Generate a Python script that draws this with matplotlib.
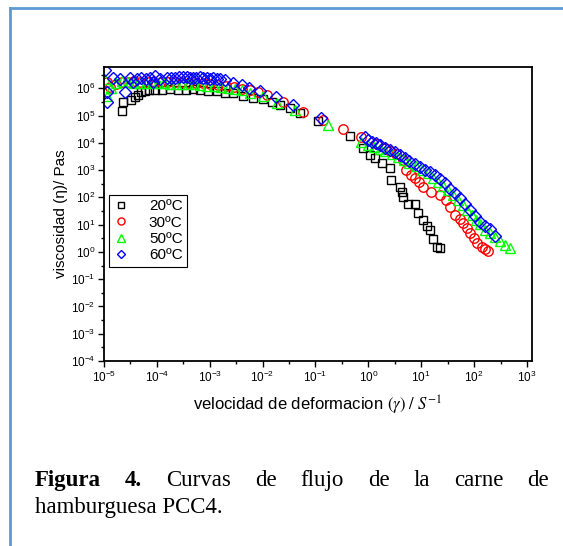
import matplotlib
matplotlib.use('Agg')
import matplotlib.pyplot as plt
from matplotlib.lines import Line2D
from matplotlib.ticker import LogLocator, NullFormatter, LogFormatterSciNotation

plt.rcParams['font.family'] = ['Liberation Sans', 'DejaVu Sans']
plt.rcParams['mathtext.fontset'] = 'custom'
plt.rcParams['mathtext.rm'] = 'Liberation Sans'
plt.rcParams['mathtext.it'] = 'Liberation Sans:italic'
plt.rcParams['mathtext.bf'] = 'Liberation Sans:bold'

# 20 ºC
x20 = [2.15e-5, 2.3e-5, 3.3e-5, 3.9e-5, 4.4e-5, 5.1e-5, 6.0e-5, 7.1e-5, 9.1e-5, 1.23e-4,
       1.78e-4, 2.5e-4, 3.6e-4, 4.8e-4, 6.5e-4, 9.3e-4, 1.35e-3, 1.95e-3, 2.75e-3, 4.3e-3,
       6.6e-3, 1.02e-2, 1.5e-2, 2.1e-2, 3.3e-2, 5.1e-2, 0.112, 0.45, 0.79, 1.07,
       1.32, 1.78, 2.6, 2.7, 3.95, 4.3, 4.5, 5.6, 7.6, 8.7,
       10.7, 12.6, 14.5, 16.6, 19.5, 22.4]
y20 = [1.48e5, 3.1e5, 3.7e5, 4.9e5, 5.6e5, 7.1e5, 8.1e5, 8.5e5, 8.5e5, 8.5e5,
       9.2e5, 8.9e5, 8.9e5, 9.2e5, 8.9e5, 7.9e5, 7.9e5, 6.9e5, 6.6e5, 5.4e5,
       4.5e5, 4.0e5, 3.2e5, 2.4e5, 1.95e5, 1.2e5, 6.3e4, 1.78e4, 6.5e3, 3.5e3,
       2.8e3, 1.75e3, 1.15e3, 450, 240, 158, 102, 59, 56, 27,
       14.5, 9.3, 6.2, 3.1, 1.5, 1.35]

# 30 ºC
x30 = [1.12e-5, 1.29e-5, 1.7e-5, 2.2e-5, 2.8e-5, 3.7e-5, 4.8e-5, 6.5e-5, 8.9e-5, 1.2e-4,
       1.62e-4, 2.2e-4, 2.95e-4, 4.0e-4, 5.5e-4, 7.4e-4, 1.0e-3, 1.42e-3, 2.0e-3, 2.9e-3,
       4.1e-3, 5.8e-3, 8.2e-3, 1.2e-2, 2.4e-2, 5.7e-2, 0.138, 0.33, 0.74, 1.44,
       2.05, 2.6, 3.4, 4.5, 5.2, 6.3, 7.6, 8.9, 10.7, 15.5,
       22.4, 30, 35, 43.6, 54, 62, 73, 83, 98, 112,
       141, 158, 182]
y30 = [1.74e6, 1.15e6, 1.44e6, 1.7e6, 1.7e6, 1.85e6, 1.7e6, 1.7e6, 1.7e6, 1.7e6,
       1.7e6, 1.7e6, 1.63e6, 1.56e6, 1.56e6, 1.5e6, 1.44e6, 1.32e6, 1.2e6, 1.12e6,
       9.8e5, 8.6e5, 7.3e5, 5.6e5, 3.1e5, 1.38e5, 6.8e4, 3.1e4, 1.66e4, 8.9e3,
       6.4e3, 4.9e3, 3.8e3, 2.3e3, 1.0e3, 650, 500, 360, 240, 158,
       120, 78, 44, 22, 15.5, 11.2, 7.4, 4.8, 3.2, 2.2,
       1.47, 1.26, 1.05]

# 50 ºC
x50 = [1.04e-5, 1.15e-5, 1.36e-5, 1.7e-5, 2.2e-5, 2.8e-5, 3.7e-5, 4.8e-5, 6.2e-5, 8.1e-5,
       1.05e-4, 1.36e-4, 1.78e-4, 2.3e-4, 2.95e-4, 3.9e-4, 5.0e-4, 6.5e-4, 8.9e-4, 1.2e-3,
       1.62e-3, 2.2e-3, 3.0e-3, 4.1e-3, 5.8e-3, 1.02e-2, 1.87e-2, 4.1e-2, 0.17, 0.74,
       0.98, 1.26, 1.66, 2.1, 2.8, 3.6, 4.7, 6.0, 7.9, 10.2,
       13.2, 16.6, 20.4, 25.7, 31.6, 40, 49, 62, 73, 91,
       107, 129, 158, 200, 245, 309, 380, 468]
y50 = [2.2e6, 5.2e5, 1.02e6, 1.56e6, 1.85e6, 1.7e6, 1.56e6, 1.56e6, 1.56e6, 1.56e6,
       1.56e6, 1.5e6, 1.44e6, 1.44e6, 1.44e6, 1.44e6, 1.38e6, 1.32e6, 1.26e6, 1.2e6,
       1.12e6, 1.02e6, 9.4e5, 8.3e5, 6.6e5, 5.0e5, 3.0e5, 1.59e5, 4.5e4, 1.1e4,
       8.3e3, 6.9e3, 5.9e3, 4.9e3, 3.8e3, 2.95e3, 2.3e3, 1.78e3, 1.38e3, 1.0e3,
       780, 500, 360, 260, 182, 120, 78, 51, 34, 22,
       14.5, 10.2, 6.6, 4.8, 3.4, 2.45, 1.74, 1.35]

# 60 ºC
x60 = [1.04e-5, 1.12e-5, 1.15e-5, 1.48e-5, 2.0e-5, 2.5e-5, 3.1e-5, 3.55e-5, 4.2e-5, 5.1e-5,
       6.2e-5, 7.4e-5, 8.5e-5, 9.1e-5, 1.15e-4, 1.55e-4, 1.86e-4, 2.2e-4, 2.6e-4, 3.1e-4,
       3.7e-4, 4.3e-4, 4.8e-4, 5.6e-4, 6.5e-4, 7.4e-4, 8.7e-4, 1.0e-3, 1.15e-3, 1.35e-3,
       1.55e-3, 1.95e-3, 2.75e-3, 4.0e-3, 5.5e-3, 8.9e-3, 1.82e-2, 3.7e-2, 0.13, 0.85,
       0.98, 1.15, 1.38, 1.66, 2.05, 2.6, 3.16, 3.98, 4.9, 6.0,
       7.6, 9.3, 11.7, 14.5, 18.2, 22.4, 28, 35, 43.6, 54,
       66, 83, 102, 129, 158, 200, 245]
y60 = [4.7e6, 3.2e5, 7.1e5, 2.3e6, 2.2e6, 7.5e5, 2.3e6, 1.74e6, 2.2e6, 2.45e6,
       2.2e6, 2.4e6, 1.74e6, 2.9e6, 2.2e6, 2.3e6, 2.4e6, 2.45e6, 2.6e6, 2.7e6,
       2.6e6, 2.45e6, 2.4e6, 2.3e6, 2.5e6, 2.4e6, 2.3e6, 2.2e6, 2.3e6, 2.2e6,
       2.1e6, 2.0e6, 1.52e6, 1.32e6, 1.0e6, 7.9e5, 4.9e5, 2.35e5, 7.9e4, 1.58e4,
       1.26e4, 1.1e4, 9.8e3, 8.3e3, 6.6e3, 5.4e3, 4.6e3, 3.5e3, 2.75e3, 2.1e3,
       1.66e3, 1.29e3, 1.02e3, 830, 650, 490, 330, 210, 141, 91,
       56, 34, 20, 12.6, 9.3, 7.1, 3.7]

series = [
    (x20, y20, '20ºC', 's', 'black', 5.8),
    (x30, y30, '30ºC', 'o', 'red', 6.8),
    (x50, y50, '50ºC', '^', '#00ff00', 6.8),
    (x60, y60, '60ºC', 'D', 'blue', 5.8),
]

fig = plt.figure(figsize=(5.63, 5.46), dpi=100)
ax = fig.add_axes([0.1847, 0.3388, 0.7602, 0.5385])

for xs, ys, lab, mk, col, ms in series:
    ax.plot(xs, ys, linestyle='none', marker=mk, markersize=ms,
            markerfacecolor='none', markeredgecolor=col, markeredgewidth=1.0,
            label=lab)

ax.set_xscale('log')
ax.set_yscale('log')
ax.set_xlim(1e-5, 10**3.095)
ax.set_ylim(1e-4, 10**6.78)

for axis in (ax.xaxis, ax.yaxis):
    axis.set_major_locator(LogLocator(base=10, numticks=20))
    axis.set_minor_locator(LogLocator(base=10, subs=(10**0.5,), numticks=20))
    axis.set_minor_formatter(NullFormatter())
    axis.set_major_formatter(LogFormatterSciNotation())

ax.tick_params(which='major', direction='out', length=4, width=1.0, labelsize=8.5, pad=2)
ax.tick_params(which='minor', direction='out', length=2.5, width=1.0)
for sp in ax.spines.values():
    sp.set_linewidth(1.3)

ax.set_ylabel('viscosidad (η)/ Pas', fontsize=11, labelpad=2)
ax.set_xlabel(r'velocidad de deformacion $(\gamma)\ /\ S^{-1}$', fontsize=12,
              labelpad=7, math_fontfamily='stix')

leg = ax.legend(loc='lower left', bbox_to_anchor=(0.012, 0.32), borderaxespad=0,
                fancybox=False, edgecolor='black', framealpha=1, fontsize=11,
                handlelength=1.0, handletextpad=1.3, labelspacing=0.15,
                borderpad=0.3, markerscale=0.75)
leg.get_frame().set_linewidth(0.8)

# page frame
border = '#5b9bd5'
fig.add_artist(Line2D([9.5 / 563, 1.0], [1 - 8 / 546, 1 - 8 / 546],
                      transform=fig.transFigure, color=border, linewidth=2))
fig.add_artist(Line2D([10 / 563, 10 / 563], [0.0, 1 - 8 / 546],
                      transform=fig.transFigure, color=border, linewidth=2))

# caption, first line justified
words = [('Figura', 'bold'), ('4.', 'bold'), ('Curvas', 'normal'), ('de', 'normal'),
         ('flujo', 'normal'), ('de', 'normal'), ('la', 'normal'), ('carne', 'normal'),
         ('de', 'normal')]
left, right = 35 / 563, 549 / 563
renderer = fig.canvas.get_renderer()
texts = []
widths = []
for w, wt in words:
    t = fig.text(0, 1 - 486 / 546, w, fontsize=16.5, fontweight=wt,
                 family='Liberation Serif', va='baseline', ha='left')
    bb = t.get_window_extent(renderer=renderer)
    texts.append(t)
    widths.append(bb.width / fig.bbox.width)
gap = (right - left - sum(widths)) / (len(words) - 1)
xpos = left
for t, wd in zip(texts, widths):
    t.set_x(xpos)
    xpos += wd + gap
fig.text(left, 1 - 513 / 546, 'hamburguesa PCC4.', fontsize=16.5,
         family='Liberation Serif', va='baseline', ha='left')

fig.savefig('out.png', dpi=100)
